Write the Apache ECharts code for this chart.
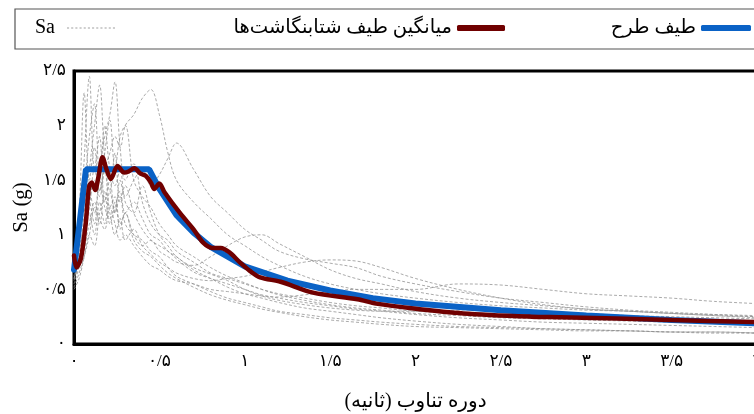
<!DOCTYPE html>
<html>
<head>
<meta charset="utf-8">
<script src="https://cdn.jsdelivr.net/npm/echarts@6/dist/echarts.min.js"></script>
<style>
html,body{margin:0;padding:0;background:#fff;}
#chart{width:754px;height:414px;}
</style>
</head>
<body>
<div id="chart"></div>
<script>
// Tick labels (Persian digits)
const xTickLabels = ['۰','۰/۵','۱','۱/۵','۲','۲/۵','۳','۳/۵','۴'];
const yTickLabels = ['۰','۰/۵','۱','۱/۵','۲','۲/۵'];

// Legend names
const nameDesign = 'طیف طرح';
const nameMean = 'میانگین طیف شتابنگاشت\u200Cها';
const nameRecord = 'Sa';

// Design spectrum (period, Sa)
const designT  = [0, 0.07, 0.44, 0.5, 0.6, 0.7, 0.8, 0.9, 1.0, 1.25, 1.5, 1.75, 2.0, 2.5, 3.0, 3.5, 4.0];
const designSa = [0.68, 1.60, 1.60, 1.42, 1.18, 1.02, 0.89, 0.80, 0.71, 0.58, 0.49, 0.42, 0.37, 0.31, 0.26, 0.22, 0.19];

// Mean spectrum of records
const meanT  = [0, 0.014, 0.04, 0.069, 0.088, 0.104, 0.124, 0.143, 0.167, 0.19, 0.216, 0.255, 0.294, 0.32, 0.353, 0.39, 0.42, 0.45, 0.47, 0.50, 0.53, 0.62, 0.70, 0.755, 0.81, 0.86, 0.91, 0.97, 1.03, 1.09, 1.21, 1.40, 1.66, 1.77, 1.99, 2.28, 2.68, 2.85, 3.5, 4.0];
const meanSa = [0.81, 0.70, 0.78, 1.11, 1.44, 1.48, 1.41, 1.53, 1.71, 1.60, 1.51, 1.63, 1.57, 1.58, 1.61, 1.56, 1.54, 1.48, 1.42, 1.47, 1.39, 1.20, 1.05, 0.93, 0.88, 0.88, 0.84, 0.75, 0.67, 0.61, 0.57, 0.47, 0.41, 0.37, 0.325, 0.28, 0.25, 0.245, 0.22, 0.20];

// Individual record spectra (common period grid)
const recT = [0, 0.03, 0.06, 0.09, 0.12, 0.15, 0.18, 0.21, 0.24, 0.27, 0.3, 0.35, 0.4, 0.45, 0.5, 0.55, 0.6, 0.7, 0.8, 0.9, 1.0, 1.1, 1.2, 1.35, 1.5, 1.65, 1.8, 2.0, 2.25, 2.5, 2.75, 3.0, 3.25, 3.5, 3.75, 4.0];
const rec1  = [0.62, 0.95, 1.7, 2.45, 1.6, 1.9, 1.3, 1.5, 1.2, 1.35, 1.1, 1.0, 0.95, 0.85, 0.8, 0.7, 0.62, 0.55, 0.48, 0.42, 0.38, 0.34, 0.3, 0.27, 0.24, 0.22, 0.2, 0.18, 0.16, 0.15, 0.14, 0.13, 0.12, 0.11, 0.1, 0.1];
const rec2  = [0.58, 0.8, 1.2, 1.6, 2.0, 2.37, 1.7, 1.4, 1.75, 1.3, 1.45, 1.2, 1.05, 0.95, 0.9, 0.85, 0.78, 0.66, 0.6, 0.55, 0.5, 0.45, 0.42, 0.38, 0.35, 0.32, 0.3, 0.27, 0.24, 0.22, 0.2, 0.19, 0.18, 0.17, 0.16, 0.15];
const rec3  = [0.66, 0.85, 1.1, 1.4, 1.2, 1.6, 1.9, 2.1, 2.4, 1.8, 1.5, 1.65, 1.3, 1.1, 1.0, 0.95, 0.85, 0.75, 0.65, 0.6, 0.55, 0.5, 0.46, 0.42, 0.38, 0.35, 0.33, 0.3, 0.28, 0.26, 0.25, 0.24, 0.23, 0.22, 0.21, 0.2];
const rec4  = [0.7, 0.9, 1.05, 1.3, 1.5, 1.35, 1.6, 1.75, 1.9, 1.8, 2.0, 2.1, 2.25, 2.33, 2.1, 1.75, 1.5, 1.3, 1.15, 1.0, 0.9, 0.8, 0.72, 0.62, 0.55, 0.5, 0.46, 0.42, 0.38, 0.35, 0.33, 0.31, 0.3, 0.28, 0.27, 0.26];
const rec5  = [0.55, 0.7, 0.85, 1.2, 1.0, 1.3, 1.1, 1.4, 1.2, 1.5, 1.35, 1.5, 1.6, 1.45, 1.55, 1.7, 1.84, 1.6, 1.35, 1.2, 1.05, 0.95, 0.85, 0.78, 0.74, 0.7, 0.62, 0.55, 0.48, 0.42, 0.38, 0.34, 0.31, 0.29, 0.27, 0.25];
const rec6  = [0.6, 0.75, 0.95, 1.3, 1.1, 1.5, 1.25, 1.15, 1.3, 1.05, 1.2, 1.0, 0.9, 0.95, 0.85, 0.8, 0.75, 0.72, 0.8, 0.9, 0.98, 1.0, 0.92, 0.8, 0.68, 0.6, 0.55, 0.48, 0.42, 0.38, 0.35, 0.32, 0.3, 0.28, 0.26, 0.25];
const rec7  = [0.52, 0.65, 0.8, 1.0, 1.25, 1.1, 1.4, 1.2, 1.0, 1.15, 0.95, 1.05, 0.9, 0.82, 0.75, 0.7, 0.65, 0.6, 0.58, 0.6, 0.62, 0.66, 0.7, 0.75, 0.77, 0.76, 0.7, 0.6, 0.5, 0.42, 0.36, 0.32, 0.3, 0.28, 0.26, 0.24];
const rec8  = [0.6, 0.72, 0.9, 1.1, 1.3, 1.15, 1.05, 1.25, 1.1, 0.95, 1.0, 0.9, 0.8, 0.72, 0.68, 0.62, 0.58, 0.55, 0.5, 0.48, 0.46, 0.44, 0.43, 0.45, 0.48, 0.5, 0.5, 0.5, 0.55, 0.54, 0.5, 0.46, 0.44, 0.42, 0.39, 0.37];
const rec9  = [0.5, 0.6, 0.8, 1.0, 0.9, 1.2, 1.35, 1.1, 1.25, 1.4, 1.2, 1.3, 1.15, 1.0, 0.95, 0.85, 0.8, 0.68, 0.6, 0.52, 0.46, 0.42, 0.38, 0.33, 0.3, 0.27, 0.24, 0.21, 0.18, 0.16, 0.14, 0.13, 0.12, 0.11, 0.11, 0.1];
const rec10 = [0.68, 1.0, 1.4, 1.9, 2.2, 1.5, 2.0, 1.6, 1.45, 1.6, 1.3, 1.2, 1.45, 1.2, 1.0, 0.9, 0.8, 0.7, 0.64, 0.58, 0.5, 0.44, 0.4, 0.36, 0.33, 0.31, 0.3, 0.3, 0.31, 0.32, 0.3, 0.28, 0.26, 0.25, 0.24, 0.23];
const rec11 = [0.72, 1.2, 2.3, 1.5, 1.8, 1.4, 1.6, 1.25, 1.35, 1.1, 1.2, 0.95, 0.85, 0.8, 0.72, 0.65, 0.6, 0.52, 0.45, 0.4, 0.36, 0.32, 0.29, 0.25, 0.22, 0.2, 0.18, 0.16, 0.15, 0.14, 0.13, 0.12, 0.12, 0.11, 0.11, 0.1];
const rec12 = [0.6, 0.78, 1.0, 1.25, 1.6, 1.4, 1.75, 2.05, 1.6, 1.9, 2.0, 1.5, 1.35, 1.25, 1.1, 1.0, 0.9, 0.8, 0.7, 0.62, 0.56, 0.5, 0.45, 0.4, 0.36, 0.33, 0.31, 0.28, 0.26, 0.24, 0.23, 0.22, 0.21, 0.2, 0.19, 0.18];
const records = [rec1, rec2, rec3, rec4, rec5, rec6, rec7, rec8, rec9, rec10, rec11, rec12];

const zip = (xs, ys) => xs.map((x, i) => [x, ys[i]]);
const serifFont = '"Liberation Serif", "DejaVu Sans", serif';

const recordSeries = records.map(r => ({
  name: nameRecord,
  type: 'line',
  data: zip(recT, r),
  symbol: 'none',
  smooth: 0.35,
  z: 1,
  silent: true,
  itemStyle: { color: '#a0a0a0' },
  lineStyle: { color: '#8f8f8f', width: 0.9, type: [3, 2], opacity: 0.85 }
}));

const dashIcon = 'path://M0,0h2v1h-2z M4,0h2v1h-2z M8,0h2v1h-2z M12,0h2v1h-2z M16,0h2v1h-2z M20,0h2v1h-2z M24,0h2v1h-2z M28,0h2v1h-2z M32,0h2v1h-2z M36,0h2v1h-2z M40,0h2v1h-2z M44,0h2v1h-2z';

const chart = echarts.init(document.getElementById('chart'), null, { renderer: 'canvas' });
const legendBase = {
  orient: 'horizontal',
  align: 'right',
  padding: 0,
  itemWidth: 50,
  itemHeight: 6,
  selectedMode: false,
  textStyle: { fontFamily: serifFont, fontSize: 19.5, color: '#000' }
};
chart.setOption({
  animation: false,
  backgroundColor: '#fff',
  graphic: [{
    type: 'rect',
    shape: { x: 15, y: 9, width: 760, height: 40 },
    style: { fill: 'none', stroke: '#555', lineWidth: 1.2 },
    z: 0
  }],
  legend: [
    Object.assign({}, legendBase, { data: [{ name: nameDesign, icon: 'roundRect' }], right: 3, top: 18 }),
    Object.assign({}, legendBase, { data: [{ name: nameMean, icon: 'roundRect' }], right: 249, top: 18, itemWidth: 48 }),
    Object.assign({}, legendBase, { data: [{ name: nameRecord, icon: dashIcon }], right: 639, top: 18,
      itemWidth: 48, itemHeight: 1.2,
      textStyle: { fontFamily: serifFont, fontSize: 20, color: '#000', padding: [0, 7, 0, 0] } })
  ],
  grid: {
    left: 74, right: -3, top: 71, bottom: 70,
    outerBoundsMode: 'none',
    containLabel: false,
    show: true, borderColor: '#000', borderWidth: 3, backgroundColor: 'transparent'
  },
  xAxis: {
    type: 'value', min: 0, max: 4, interval: 0.5,
    axisLine: { show: true, lineStyle: { color: '#000', width: 3 } },
    axisTick: { show: false },
    splitLine: { show: false },
    axisLabel: {
      color: '#000', fontFamily: serifFont, fontSize: 17, margin: 9,
      formatter: v => xTickLabels[Math.round(v / 0.5)]
    },
    name: 'دوره تناوب (ثانیه)',
    nameLocation: 'middle', nameGap: 48,
    nameTextStyle: { color: '#000', fontFamily: serifFont, fontSize: 20 }
  },
  yAxis: {
    type: 'value', min: 0, max: 2.5, interval: 0.5,
    axisLine: { show: true, lineStyle: { color: '#000', width: 3 } },
    axisTick: { show: false },
    splitLine: { show: false },
    axisLabel: {
      color: '#000', fontFamily: serifFont, fontSize: 17, margin: 8,
      formatter: v => yTickLabels[Math.round(v / 0.5)]
    },
    name: 'Sa (g)',
    nameLocation: 'middle', nameGap: 34, nameRotate: 90,
    nameTextStyle: { color: '#000', fontFamily: serifFont, fontSize: 21 }
  },
  series: recordSeries.concat([
    {
      name: nameDesign, type: 'line', data: zip(designT, designSa),
      symbol: 'none', z: 3,
      lineStyle: { color: '#0a62c6', width: 6, cap: 'round' },
      itemStyle: { color: '#0a62c6' }
    },
    {
      name: nameMean, type: 'line', data: zip(meanT, meanSa),
      symbol: 'none', smooth: 0.3, z: 4,
      lineStyle: { color: '#700000', width: 4.5, cap: 'round' },
      itemStyle: { color: '#700000' }
    }
  ])
});
</script>
</body>
</html>
